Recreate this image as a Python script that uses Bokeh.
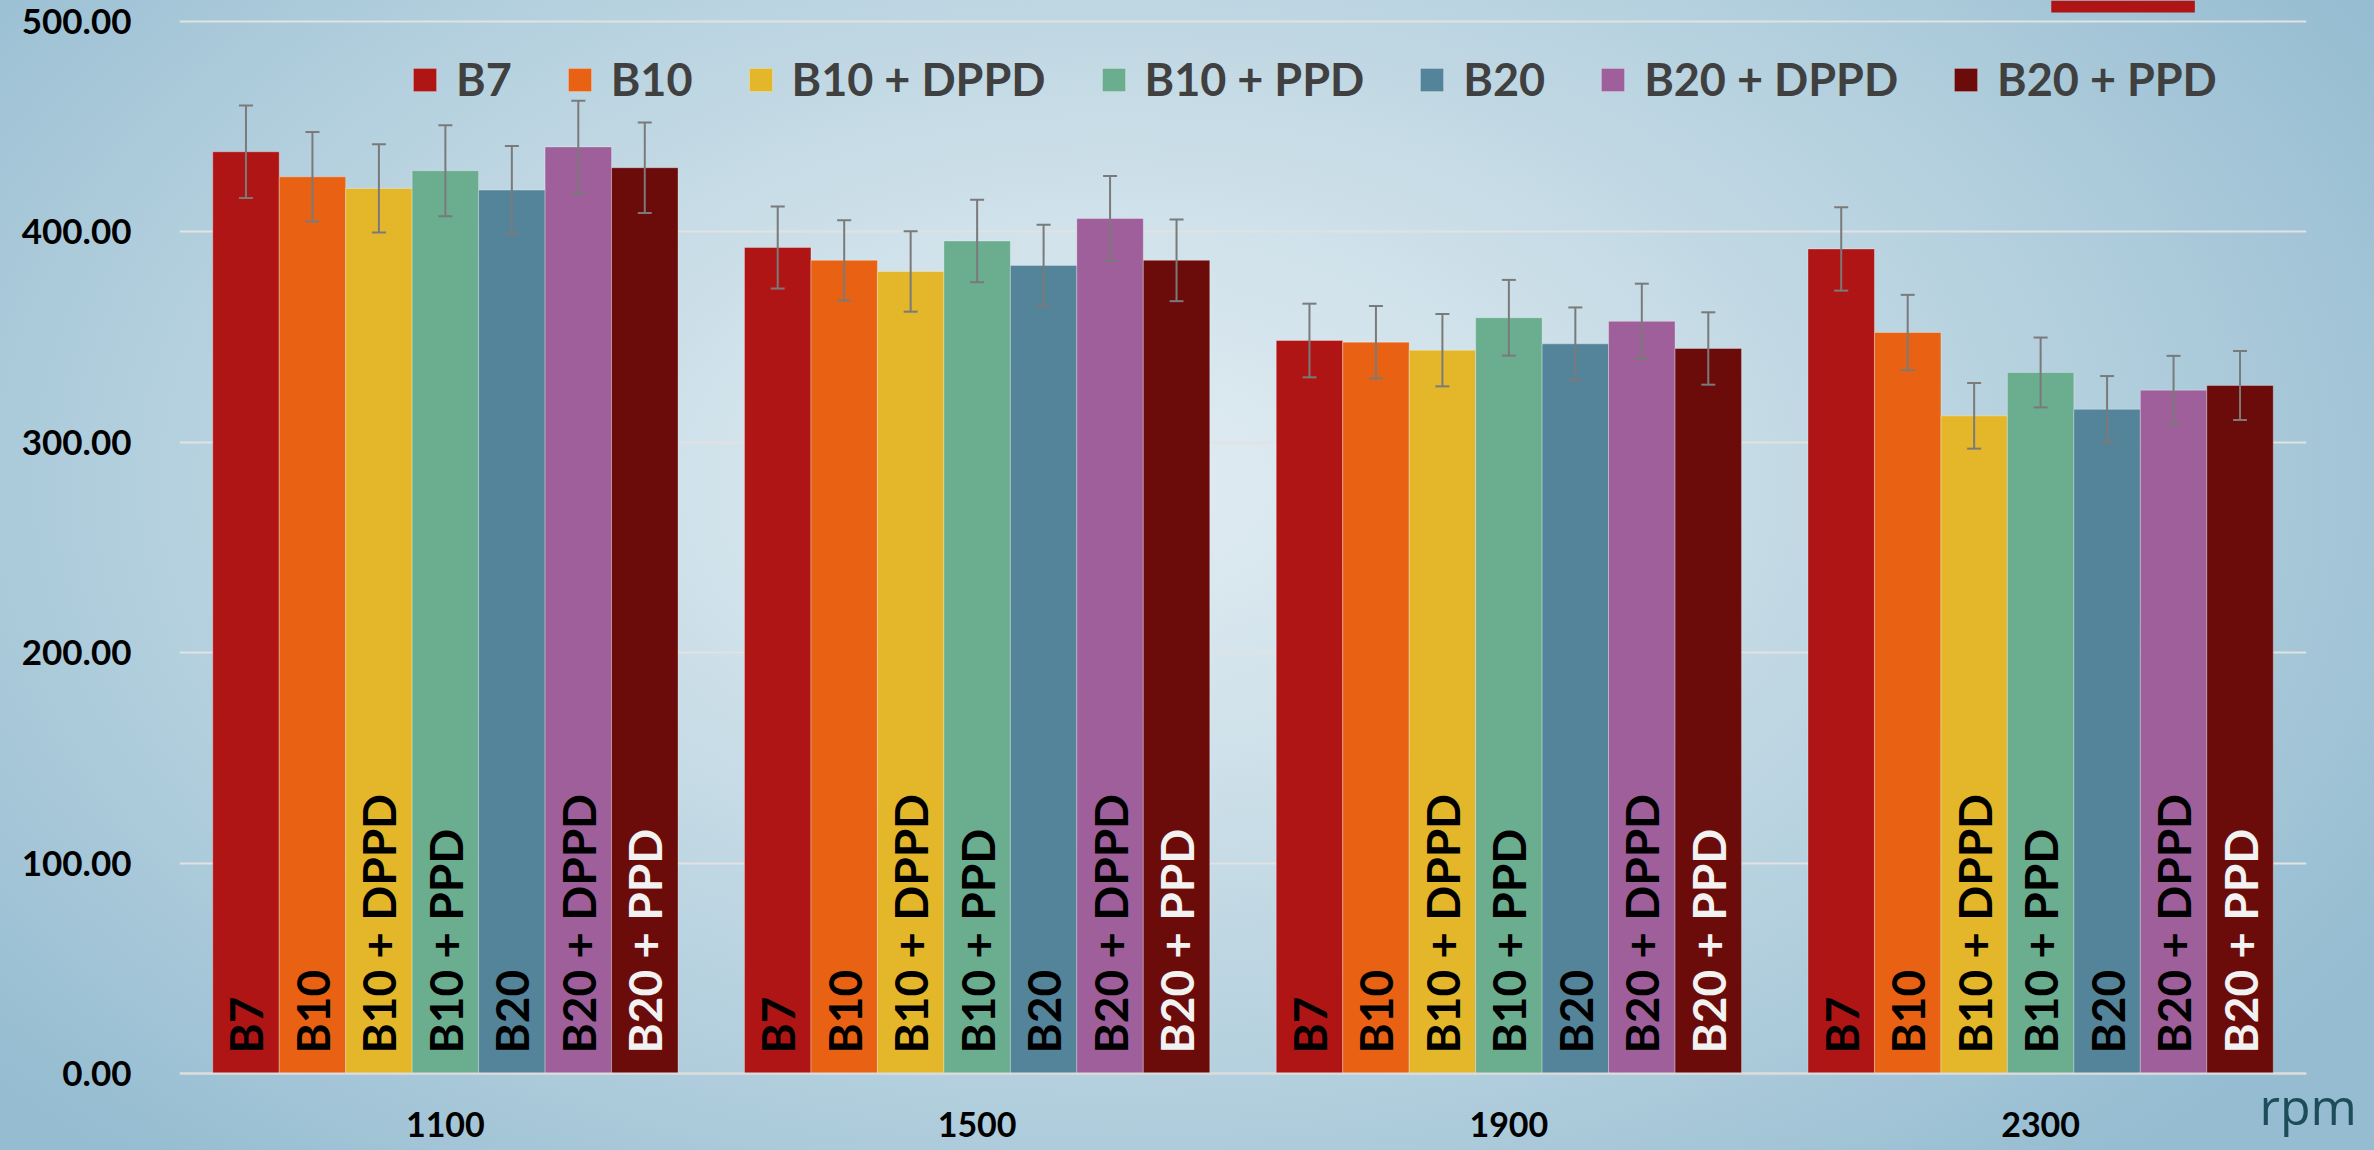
import math
from bokeh.plotting import figure
from bokeh.models import (ColumnDataSource, FactorRange, Range1d, Whisker, TeeHead,
                          FixedTicker, PrintfTickFormatter, Legend, LegendItem, LinearAxis,
                          BoxAnnotation)
from bokeh.transform import dodge
from bokeh.core.properties import value
from bokeh.embed import file_html
from bokeh.resources import INLINE

# ---------------- data ----------------
RPM = ["1100", "1500", "1900", "2300"]
SERIES = ["B7", "B10", "B10 + DPPD", "B10 + PPD", "B20", "B20 + DPPD", "B20 + PPD"]
Y_TICKS = [0, 100, 200, 300, 400, 500]
UNIT_LABEL = "rpm"

B7 = [438.1, 392.6, 348.4, 391.9]
B10 = [426.2, 386.5, 347.6, 352.2]
B10_DPPD = [420.7, 381.2, 343.8, 312.6]
B10_PPD = [429.1, 395.7, 359.2, 333.2]
B20 = [419.9, 384.1, 346.8, 315.7]
B20_DPPD = [440.4, 406.4, 357.5, 324.8]
B20_PPD = [430.5, 386.5, 344.6, 327.0]

ERR_B7 = [22.0, 19.5, 17.5, 19.8]
ERR_B10 = [21.3, 19.1, 17.2, 17.9]
ERR_B10_DPPD = [21.0, 19.1, 17.2, 15.6]
ERR_B10_PPD = [21.6, 19.6, 18.0, 16.6]
ERR_B20 = [21.0, 19.3, 17.3, 15.8]
ERR_B20_DPPD = [22.0, 20.2, 17.9, 16.3]
ERR_B20_PPD = [21.5, 19.4, 17.2, 16.4]

VALUES = [B7, B10, B10_DPPD, B10_PPD, B20, B20_DPPD, B20_PPD]
ERRORS = [ERR_B7, ERR_B10, ERR_B10_DPPD, ERR_B10_PPD, ERR_B20, ERR_B20_DPPD, ERR_B20_PPD]

# ---------------- styles ----------------
COLORS = ["#b01515", "#e96214", "#e4b72b", "#6aad8f", "#53849a", "#9e5f9a", "#6b0c0b"]
LABEL_COLORS = ["#000000", "#000000", "#000000", "#000000", "#000000", "#000000", "#f2f2f2"]
BAR_W = 0.125
LABEL_Y = 9.5
UNIT_Y = -25.5
FONT = "Lato"

p = figure(
    width=2374, height=1150,
    x_range=FactorRange(factors=RPM, range_padding=0),
    y_range=Range1d(-36.6, 510.0),
    output_backend="svg", toolbar_location=None,
    min_border_left=179, min_border_right=68, min_border_top=0, min_border_bottom=0,
)
p.background_fill_alpha = 0
p.border_fill_alpha = 0
p.outline_line_color = None
p.styles = {
    "background": "radial-gradient(ellipse 62% 80% at 47% 42%, #e1ecf2 0%, #cfe1ea 30%, #b4d0de 65%, #95bcd1 100%)"
}

items = []
n = len(SERIES)
for i, (name, vals, errs, col, lcol) in enumerate(zip(SERIES, VALUES, ERRORS, COLORS, LABEL_COLORS)):
    off = (i - (n - 1) / 2) * BAR_W
    src = ColumnDataSource(dict(
        rpm=RPM,
        val=vals,
        upper=[v + e for v, e in zip(vals, errs)],
        lower=[v - e for v, e in zip(vals, errs)],
        label=[name] * len(RPM),
    ))
    r = p.vbar(x=dodge("rpm", off, range=p.x_range), top="val", width=BAR_W, source=src,
               fill_color=col, line_color="#ffffff", line_alpha=0.3, line_width=1)
    items.append(LegendItem(label=name, renderers=[r]))
    w = Whisker(base=dodge("rpm", off, range=p.x_range), upper="upper", lower="lower", source=src,
                line_color="#7a7a7a", line_width=2, level="overlay",
                upper_head=TeeHead(size=14, line_color="#7a7a7a", line_width=2),
                lower_head=TeeHead(size=14, line_color="#7a7a7a", line_width=2))
    p.add_layout(w)
    p.text(x=dodge("rpm", off, range=p.x_range), y=LABEL_Y, text="label", source=src,
           angle=math.pi / 2, text_align="left", text_baseline="middle",
           text_font=value(FONT), text_font_style="bold", text_font_size="46px",
           text_color=lcol)

# axes
p.xgrid.visible = False
p.ygrid.ticker = FixedTicker(ticks=Y_TICKS)
p.ygrid.grid_line_color = "#e2e2e2"
p.ygrid.grid_line_width = 2

p.yaxis.ticker = FixedTicker(ticks=Y_TICKS)
p.yaxis.formatter = PrintfTickFormatter(format="%.2f")
p.yaxis.axis_line_color = None
p.yaxis.major_tick_line_color = None
p.yaxis.minor_tick_line_color = None
p.yaxis.major_label_text_font = FONT
p.yaxis.major_label_text_font_style = "bold"
p.yaxis.major_label_text_font_size = "35px"
p.yaxis.major_label_text_color = "#000000"
p.yaxis.major_label_standoff = 42

p.xaxis.fixed_location = 0
p.xaxis.axis_line_color = "#dcdcdc"
p.xaxis.axis_line_width = 2
p.xaxis.major_tick_line_color = None
p.xaxis.minor_tick_line_color = None
p.xaxis.major_label_text_font = FONT
p.xaxis.major_label_text_font_style = "bold"
p.xaxis.major_label_text_font_size = "34px"
p.xaxis.major_label_text_color = "#000000"
p.xaxis.major_label_standoff = 33

# unit label for the x dimension, shown at the lower right
unit_axis = LinearAxis(ticker=FixedTicker(ticks=[UNIT_Y]),
                       major_label_overrides={UNIT_Y: UNIT_LABEL},
                       axis_line_color=None, major_tick_line_color=None,
                       minor_tick_line_color=None,
                       major_label_text_font="Open Sans", major_label_text_font_size="50px",
                       major_label_text_color="#1e4d5a", major_label_standoff=-53)
p.add_layout(unit_axis, "right")

legend = Legend(items=items, orientation="horizontal", location=(231, 1044),
                label_text_font=FONT, label_text_font_style="bold",
                label_text_font_size="45px", label_text_color="#404040",
                glyph_width=29, glyph_height=29, label_standoff=17, spacing=53,
                padding=0, margin=0, background_fill_alpha=0, border_line_alpha=0)
p.add_layout(legend)

p.add_layout(BoxAnnotation(left=3.52, right=3.79, bottom=504.3, fill_color="#b01515",
                           fill_alpha=1, line_color=None))

open("out.html", "w").write(file_html(p, INLINE, title="chart"))
